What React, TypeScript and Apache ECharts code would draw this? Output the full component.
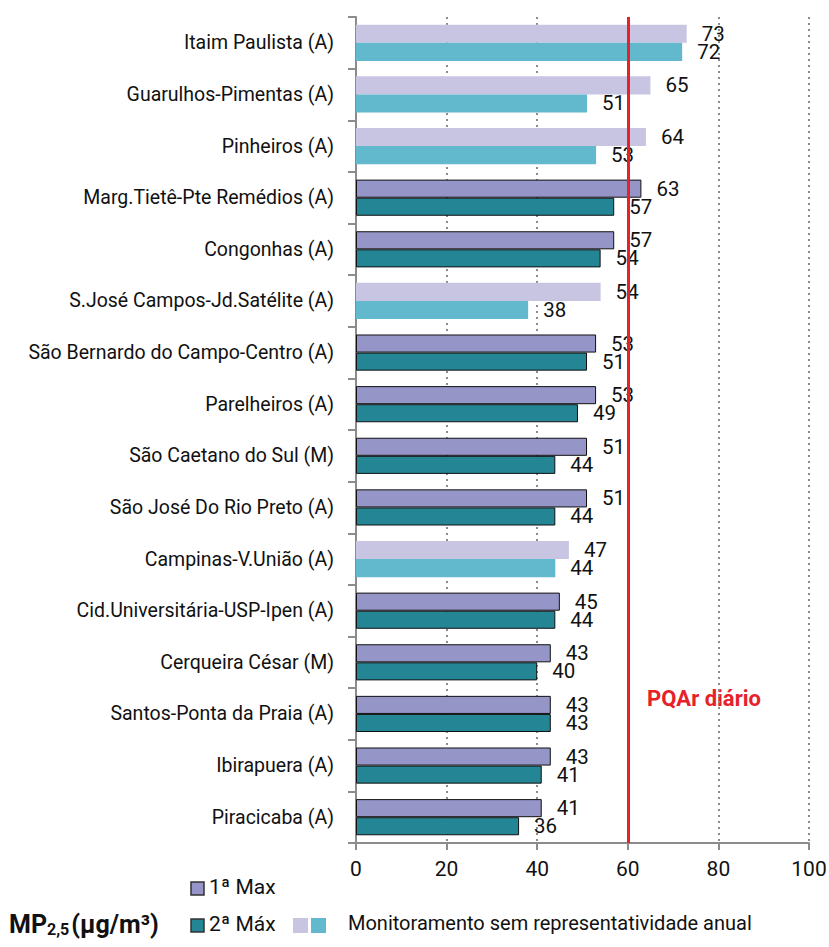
import React, { useEffect, useRef } from "react";
import * as echarts from "echarts";

const categories = [
  "Itaim Paulista (A)",
  "Guarulhos-Pimentas (A)",
  "Pinheiros (A)",
  "Marg.Tietê-Pte Remédios (A)",
  "Congonhas (A)",
  "S.José Campos-Jd.Satélite (A)",
  "São Bernardo do Campo-Centro (A)",
  "Parelheiros (A)",
  "São Caetano do Sul (M)",
  "São José Do Rio Preto (A)",
  "Campinas-V.União (A)",
  "Cid.Universitária-USP-Ipen (A)",
  "Cerqueira César (M)",
  "Santos-Ponta da Praia (A)",
  "Ibirapuera (A)",
  "Piracicaba (A)",
];
const max1 = [73, 65, 64, 63, 57, 54, 53, 53, 51, 51, 47, 45, 43, 43, 43, 41];
const max2 = [72, 51, 53, 57, 54, 38, 51, 49, 44, 44, 44, 44, 40, 43, 41, 36];
const representative = [false, false, false, true, true, false, true, true, true, true, false, true, true, true, true, true];
const xTicks = [0, 20, 40, 60, 80, 100];
const limitValue = 60;

const FONT = "Roboto, sans-serif";
const C1 = "#9595c8";
const C2 = "#248594";
const C1L = "#c8c5e3";
const C2L = "#62b8cc";
const RED = "#e8202a";

export default function App() {
  const ref = useRef<HTMLDivElement>(null);
  useEffect(() => {
    if (!ref.current) return;
    const chart = echarts.init(ref.current, null, { renderer: "svg" });
    const mk = (vals: number[], dark: string, light: string) =>
      vals.map((v, i) => ({
        value: v,
        itemStyle: representative[i]
          ? { color: dark, borderColor: "#111", borderWidth: 1 }
          : { color: light, borderWidth: 0 },
      }));
    const labelCfg = {
      show: true,
      position: "right",
      distance: 15,
      color: "#111",
      fontSize: 20.5,
      fontFamily: FONT,
    };
    chart.setOption({
      animation: false,
      textStyle: { fontFamily: FONT },
      grid: { left: 356, top: 17, right: 20, bottom: 104, containLabel: false, outerBoundsMode: "none" },
      xAxis: {
        type: "value",
        min: 0,
        max: 100,
        interval: 20,
        axisLine: { show: true, lineStyle: { color: "#8c8c8c", width: 2 } },
        axisTick: { show: true, length: 7, lineStyle: { color: "#8c8c8c", width: 2 } },
        axisLabel: {
          color: "#111",
          fontSize: 21,
          fontFamily: FONT,
          margin: 15,
          formatter: (v: number) => (xTicks.includes(v) ? String(v) : ""),
        },
        splitLine: { show: true, lineStyle: { color: "#8c8c8c", width: 2, type: [2, 4] } },
      },
      yAxis: {
        type: "category",
        data: categories,
        inverse: true,
        axisLine: { show: true, lineStyle: { color: "#8c8c8c", width: 2 } },
        axisTick: { show: true, length: 8, lineStyle: { color: "#8c8c8c", width: 2 } },
        axisLabel: { color: "#111", fontSize: 19.5, fontFamily: FONT, margin: 22 },
      },
      series: [
        {
          name: "1ª Max",
          type: "bar",
          data: mk(max1, C1, C1L),
          barGap: "0%",
          barCategoryGap: "30%",
          label: labelCfg,
          markLine: {
            silent: true,
            symbol: "none",
            label: { show: false },
            lineStyle: { color: RED, width: 3, type: "solid" },
            data: [{ xAxis: limitValue }],
          },
          z: 2,
        },
        {
          name: "2ª Máx",
          type: "bar",
          data: mk(max2, C2, C2L),
          barGap: "0%",
          barCategoryGap: "30%",
          label: labelCfg,
          z: 2,
        },
      ],
      graphic: [
        {
          type: "text",
          left: 647,
          top: 687,
          style: { text: "PQAr diário", fill: RED, fontSize: 22, fontWeight: "bold", fontFamily: FONT },
        },
        { type: "rect", shape: { x: 191, y: 882, width: 13, height: 13 }, style: { fill: C1, stroke: "#333", lineWidth: 1.5 } },
        { type: "text", left: 209, top: 876, style: { text: "1ª Max", fill: "#111", fontSize: 21, fontFamily: FONT } },
        { type: "rect", shape: { x: 191, y: 919, width: 13, height: 13 }, style: { fill: C2, stroke: "#333", lineWidth: 1.5 } },
        { type: "text", left: 209, top: 913, style: { text: "2ª Máx", fill: "#111", fontSize: 21, fontFamily: FONT } },
        { type: "rect", shape: { x: 293, y: 918, width: 15, height: 15 }, style: { fill: C1L } },
        { type: "rect", shape: { x: 311, y: 918, width: 15, height: 15 }, style: { fill: C2L } },
        {
          type: "text",
          left: 348,
          top: 913,
          style: { text: "Monitoramento sem representatividade anual", fill: "#111", fontSize: 20, fontFamily: FONT },
        },
        {
          type: "text",
          left: 9,
          top: 912,
          style: {
            text: "{a|MP}{b|2,5}{a|(µg/m³)}",
            fill: "#111",
            fontFamily: FONT,
            rich: {
              a: { fontSize: 25, fontWeight: "bold", fontFamily: FONT, fill: "#111", verticalAlign: "bottom" },
              b: { fontSize: 16, fontWeight: "bold", fontFamily: FONT, fill: "#111", padding: [12, 2, 0, 0] },
            },
          },
        },
      ],
    });
    return () => chart.dispose();
  }, []);
  return <div ref={ref} style={{ width: 829, height: 947, position: "absolute", left: 0, top: 0 }} />;
}
